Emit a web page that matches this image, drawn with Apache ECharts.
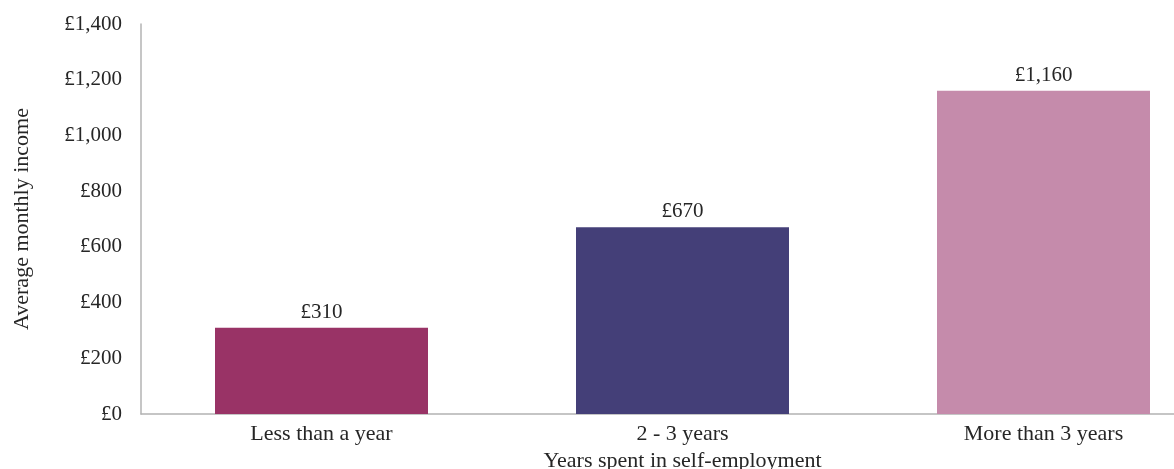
<!DOCTYPE html>
<html>
<head>
<meta charset="utf-8">
<script src="https://cdn.jsdelivr.net/npm/echarts@6/dist/echarts.min.js"></script>
<style>
  html, body { margin: 0; padding: 0; background: #ffffff; overflow: hidden; }
  #chart { width: 1240px; height: 469px; }
</style>
</head>
<body>
<div id="chart"></div>
<script>
// Average monthly income by time spent self-employed
const categories = ['Less than a year', '2 - 3 years', 'More than 3 years'];
const incomeValues = [310, 670, 1160];
const barColors = ['#993366', '#443F78', '#C58BAB'];
const yTicks = { min: 0, max: 1400, interval: 200 };

const FONT = '"Liberation Serif", "DejaVu Serif", serif';
const TEXT = '#262626';

function pounds(v) {
  return '£' + Number(v).toLocaleString('en-GB');
}

const chart = echarts.init(document.getElementById('chart'), null, { renderer: 'canvas' });

chart.setOption({
  animation: false,
  textStyle: { fontFamily: FONT, color: TEXT },
  grid: { left: 141, top: 24, width: 1083, height: 390, containLabel: false, outerBoundsMode: 'none' },
  xAxis: {
    type: 'category',
    data: categories,
    axisLine: { show: true, lineStyle: { color: '#B3B3B3', width: 1.5 } },
    axisTick: { show: false },
    axisLabel: { fontFamily: FONT, fontSize: 22, color: TEXT, margin: 9 },
    name: 'Years spent in self-employment',
    nameLocation: 'middle',
    nameGap: 33,
    nameTextStyle: { fontFamily: FONT, fontSize: 22, color: TEXT }
  },
  yAxis: {
    type: 'value',
    min: yTicks.min,
    max: yTicks.max,
    interval: yTicks.interval,
    axisLine: { show: true, lineStyle: { color: '#B3B3B3', width: 1.5 } },
    axisTick: { show: false },
    splitLine: { show: false },
    axisLabel: { fontFamily: FONT, fontSize: 21, color: TEXT, margin: 19, formatter: pounds },
    name: 'Average monthly income',
    nameLocation: 'middle',
    nameRotate: 90,
    nameGap: 108,
    nameTextStyle: { fontFamily: FONT, fontSize: 22, color: TEXT }
  },
  series: [{
    type: 'bar',
    barWidth: 213,
    data: incomeValues.map((v, i) => ({ value: v, itemStyle: { color: barColors[i] } })),
    label: {
      show: true,
      position: 'top',
      distance: 5,
      fontFamily: FONT,
      fontSize: 21,
      color: TEXT,
      formatter: p => pounds(p.value)
    }
  }]
});
</script>
</body>
</html>
